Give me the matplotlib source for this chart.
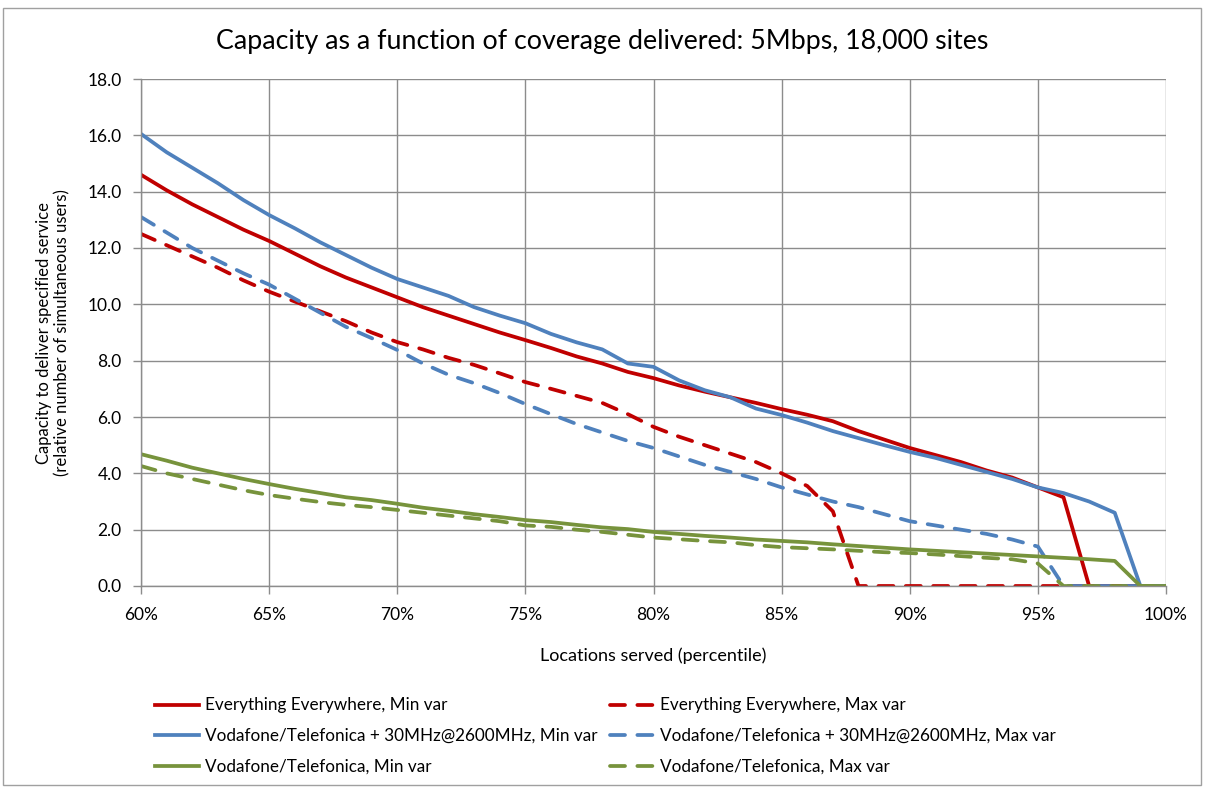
import numpy as np
import matplotlib
matplotlib.use('Agg')
import matplotlib.pyplot as plt
from matplotlib.patches import Rectangle

plt.rcParams['font.family'] = ['Lato', 'DejaVu Sans']

# ---------------------------
# Data
# ---------------------------
percentile = list(range(60, 101))

ee_min = [14.6, 14.05, 13.55, 13.1, 12.65, 12.25, 11.8, 11.35, 10.95, 10.6,
          10.25, 9.9, 9.6, 9.3, 9.0, 8.73, 8.45, 8.15, 7.9, 7.6,
          7.38, 7.12, 6.9, 6.7, 6.5, 6.28, 6.08, 5.85, 5.5, 5.2,
          4.9, 4.65, 4.4, 4.1, 3.85, 3.5, 3.15, 0.0, 0.0, 0.0, 0.0]

ee_max = [12.5, 12.1, 11.7, 11.3, 10.85, 10.45, 10.1, 9.75, 9.4, 9.0,
          8.66, 8.4, 8.1, 7.85, 7.55, 7.24, 7.0, 6.75, 6.5, 6.1,
          5.65, 5.3, 5.0, 4.7, 4.4, 4.0, 3.55, 2.65, 0.0, 0.0,
          0.0, 0.0, 0.0, 0.0, 0.0, 0.0, 0.0, 0.0, 0.0, 0.0, 0.0]

vt2600_min = [16.05, 15.4, 14.85, 14.3, 13.7, 13.17, 12.7, 12.2, 11.75, 11.3,
              10.9, 10.6, 10.3, 9.9, 9.6, 9.33, 8.95, 8.65, 8.4, 7.9,
              7.78, 7.3, 6.95, 6.7, 6.3, 6.07, 5.8, 5.5, 5.25, 5.0,
              4.76, 4.55, 4.3, 4.05, 3.8, 3.5, 3.3, 3.0, 2.6, 0.0, 0.0]

vt2600_max = [13.1, 12.55, 12.0, 11.55, 11.1, 10.7, 10.2, 9.7, 9.2, 8.8,
              8.38, 7.9, 7.5, 7.2, 6.85, 6.46, 6.1, 5.75, 5.45, 5.15,
              4.9, 4.6, 4.3, 4.05, 3.8, 3.5, 3.25, 3.0, 2.8, 2.55,
              2.3, 2.15, 2.0, 1.85, 1.65, 1.4, 0.0, 0.0, 0.0, 0.0, 0.0]

vt_min = [4.68, 4.45, 4.2, 4.0, 3.8, 3.62, 3.45, 3.3, 3.15, 3.05,
          2.92, 2.78, 2.67, 2.55, 2.45, 2.34, 2.27, 2.17, 2.08, 2.02,
          1.92, 1.85, 1.78, 1.72, 1.65, 1.6, 1.55, 1.48, 1.42, 1.36,
          1.3, 1.25, 1.2, 1.15, 1.1, 1.05, 1.0, 0.95, 0.89, 0.0, 0.0]

vt_max = [4.26, 4.0, 3.8, 3.6, 3.4, 3.23, 3.1, 2.98, 2.88, 2.8,
          2.7, 2.6, 2.5, 2.4, 2.3, 2.15, 2.1, 2.0, 1.92, 1.82,
          1.72, 1.66, 1.6, 1.55, 1.45, 1.38, 1.34, 1.3, 1.25, 1.2,
          1.17, 1.12, 1.06, 1.0, 0.95, 0.8, 0.0, 0.0, 0.0, 0.0, 0.0]

labels = [
    "Everything Everywhere, Min var",
    "Everything Everywhere, Max var",
    "Vodafone/Telefonica + 30MHz@2600MHz, Min var",
    "Vodafone/Telefonica + 30MHz@2600MHz, Max var",
    "Vodafone/Telefonica, Min var",
    "Vodafone/Telefonica, Max var",
]

RED = "#C00000"
BLUE = "#4F81BD"
GREEN = "#77933C"
GRID = "#8C8C8C"

# ---------------------------
# Figure
# ---------------------------
fig = plt.figure(figsize=(12.05, 7.87), dpi=100)
ax = fig.add_axes([141 / 1205, 1 - 586 / 787, (1166 - 141) / 1205, (586 - 79) / 787])

lw = 2.7
dash = (4, 3.3)
series = [
    (ee_min, RED, "-"), (ee_max, RED, "--"),
    (vt2600_min, BLUE, "-"), (vt2600_max, BLUE, "--"),
    (vt_min, GREEN, "-"), (vt_max, GREEN, "--"),
]
handles = {}
for (vals, col, ls), lab in zip(series, labels):
    if ls == "--":
        ln, = ax.plot(percentile, vals, color=col, lw=lw, dashes=dash, label=lab,
                      dash_capstyle="round")
    else:
        ln, = ax.plot(percentile, vals, color=col, lw=lw, label=lab,
                      solid_joinstyle="round")
    handles[lab] = ln

ax.set_xlim(60, 100)
ax.set_ylim(0, 18)
ax.set_xticks(np.arange(60, 101, 5))
ax.set_xticklabels([f"{v}%" for v in range(60, 101, 5)])
ax.set_yticks(np.arange(0, 18.1, 2))
ax.set_yticklabels([f"{v:.1f}" for v in np.arange(0, 18.1, 2)])
ax.grid(True, color=GRID, lw=1.0)
ax.set_axisbelow(True)
for s in ["top", "right"]:
    ax.spines[s].set_visible(False)
for s in ["left", "bottom"]:
    ax.spines[s].set_color(GRID)
    ax.spines[s].set_linewidth(1.0)
ax.tick_params(axis="both", colors=GRID, length=6, width=1.0, labelcolor="black",
               labelsize=12.5)
ax.tick_params(axis="x", pad=9)
ax.tick_params(axis="y", pad=8)

ax.set_xlabel("Locations served (percentile)", fontsize=13, labelpad=18)
ax.set_ylabel("Capacity to deliver specified service\n(relative number of simultaneous users)",
              fontsize=12, labelpad=12)
fig.text(0.5, 1 - 42 / 787, "Capacity as a function of coverage delivered: 5Mbps, 18,000 sites",
         ha="center", va="center", fontsize=19.3)

# legend: two columns placed separately
leg_kw = dict(loc="center left", frameon=False, fontsize=12.3, handlelength=2.6,
              handletextpad=0.35, labelspacing=0.85, borderpad=0, borderaxespad=0)
col1 = [labels[0], labels[2], labels[4]]
col2 = [labels[1], labels[3], labels[5]]
leg1 = fig.legend([handles[l] for l in col1], col1,
                  bbox_to_anchor=(155 / 1205, 1 - 736 / 787), **leg_kw)
leg2 = fig.legend([handles[l] for l in col2], col2,
                  bbox_to_anchor=(610 / 1205, 1 - 736 / 787), **leg_kw)

# chart border
fig.add_artist(Rectangle((3 / 1205, 2 / 787), 1198 / 1205, 777 / 787,
                         transform=fig.transFigure, fill=False,
                         edgecolor="#A0A0A0", lw=1.0))

fig.savefig("out.png", dpi=100)
